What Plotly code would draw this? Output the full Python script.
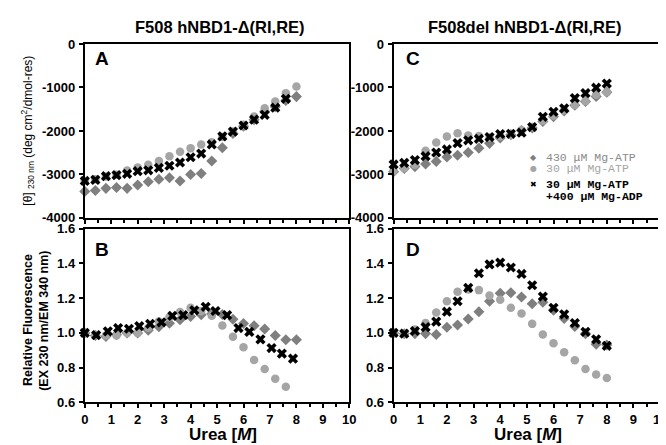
import plotly.graph_objects as go

W, H = 666, 445

# ---------------- data ----------------
urea = [0.0, 0.4, 0.8, 1.2, 1.6, 2.0, 2.4, 2.8, 3.2, 3.6, 4.0,
        4.4, 4.8, 5.2, 5.6, 6.0, 6.4, 6.8, 7.2, 7.6, 8.0]
urea_20 = [0.0, 0.4, 0.8, 1.2, 1.6, 2.0, 2.4, 2.8, 3.2, 3.6,
           4.0, 4.4, 4.8, 5.2, 5.6, 6.0, 6.4, 6.8, 7.2, 7.6]
urea_b_cross = [0.0, 0.43, 0.87, 1.26, 1.67, 2.06, 2.47, 2.9, 3.31, 3.72,
                4.14, 4.57, 4.94, 5.38, 5.81, 6.22, 6.64, 7.06, 7.45, 7.87]

# Panel A (F508, CD)
a_atp430 = [-3390, -3370, -3320, -3300, -3320, -3245, -3170, -3110, -3075, -3150, -3000,
            -2980, -2690, -2385, -2060, -1890, -1740, -1555, -1445, -1300, -1210]
a_atp30 = [-3150, -3110, -3050, -3010, -2910, -2840, -2780, -2690, -2580, -2480, -2395,
           -2310, -2260, -2140, -2010, -1860, -1670, -1480, -1320, -1130, -980]
a_adp = [-3150, -3125, -3040, -3015, -2985, -2925, -2905, -2850, -2800, -2725,
         -2605, -2520, -2310, -2125, -2015, -1875, -1740, -1630, -1465, -1260]

# Panel B (F508, fluorescence)
b_atp430 = [1.0, 0.985, 0.98, 0.99, 1.0, 1.0, 1.015, 1.035, 1.055, 1.076, 1.094,
            1.104, 1.11, 1.106, 1.078, 1.054, 1.041, 1.022, 0.985, 0.961, 0.961]
b_atp30 = [1.0, 0.99, 0.985, 0.985, 1.0, 1.0, 1.03, 1.065, 1.09, 1.12,
           1.144, 1.125, 1.098, 1.043, 0.978, 0.918, 0.844, 0.793, 0.737, 0.69]
b_adp = [1.0, 0.987, 1.009, 1.028, 1.024, 1.039, 1.052, 1.061, 1.098, 1.102,
         1.13, 1.15, 1.126, 1.102, 1.028, 1.006, 0.963, 0.913, 0.881, 0.852]

# Panel C (F508del, CD)
c_atp430 = [-2940, -2865, -2820, -2760, -2700, -2600, -2560, -2495, -2395, -2285, -2160,
            -2085, -1990, -1930, -1780, -1675, -1540, -1410, -1320, -1205, -1110]
c_atp30 = [-2920, -2860, -2780, -2455, -2265, -2125, -2055, -2105, -2115, -2150, -2120,
           -2095, -1985, -1910, -1765, -1650, -1525, -1405, -1315, -1165, -1110]
c_adp = [-2770, -2735, -2670, -2580, -2495, -2425, -2280, -2215, -2180, -2140, -2070,
         -2065, -2040, -1910, -1675, -1560, -1480, -1245, -1130, -1005, -910]

# Panel D (F508del, fluorescence)
d_atp430 = [1.0, 0.995, 0.996, 0.996, 0.991, 1.033, 1.046, 1.08, 1.122, 1.182, 1.228,
            1.231, 1.206, 1.168, 1.176, 1.131, 1.083, 1.037, 0.996, 0.935, 0.93]
d_atp30 = [1.0, 0.995, 1.02, 1.057, 1.117, 1.182, 1.237, 1.25, 1.246, 1.215, 1.19,
           1.144, 1.111, 1.052, 0.991, 0.941, 0.889, 0.843, 0.793, 0.761, 0.741]
d_adp = [1.0, 0.996, 1.011, 1.033, 1.065, 1.122, 1.182, 1.259, 1.343, 1.394, 1.404,
         1.376, 1.339, 1.274, 1.209, 1.144, 1.107, 1.057, 1.006, 0.963, 0.926]

x_ticks = [0, 1, 2, 3, 4, 5, 6, 7, 8, 9, 10]
cd_ticks = [-4000, -3000, -2000, -1000, 0]
cd_ticktext = ["-4000", "-3000", "-2000", "-1000", "0"]
fl_ticks = [0.6, 0.8, 1.0, 1.2, 1.4, 1.6]

titles = ["F508 hNBD1-Δ(RI,RE)", "F508del hNBD1-Δ(RI,RE)"]
panel_letters = ["A", "B", "C", "D"]
legend_glyphs = ["◆", "●", "✖", ""]
legend_labels = ["430 μM Mg-ATP", "30 μM Mg-ATP", "30 μM Mg-ATP", "+400 μM Mg-ADP"]

# ---------------- style ----------------
COL_DIA = "#7f7f7f"
COL_CIR = "#a5a5a5"
COL_X = "#000000"
FONT = "Liberation Sans, Arial, sans-serif"
MONO = "Liberation Mono, Courier New, monospace"


def fx(px):
    return px / W


def fy(py):
    return (H - py) / H


dom_xl = [fx(74), fx(343)]
dom_xr = [fx(388), fx(659)]
dom_ya = [fy(210), fy(30)]
dom_yb = [fy(401), fy(221)]

fig = go.Figure()


def add_series(xa, ya, x_d, y_d, x_c, y_c, x_x, y_x):
    fig.add_trace(go.Scatter(x=x_d, y=y_d, mode="markers", xaxis=xa, yaxis=ya,
                             marker=dict(symbol="diamond", size=8.5, color=COL_DIA),
                             cliponaxis=False, showlegend=False))
    fig.add_trace(go.Scatter(x=x_c, y=y_c, mode="markers", xaxis=xa, yaxis=ya,
                             marker=dict(symbol="circle", size=8.5, color=COL_CIR),
                             cliponaxis=False, showlegend=False))
    fig.add_trace(go.Scatter(x=x_x, y=y_x, mode="markers", xaxis=xa, yaxis=ya,
                             marker=dict(symbol="x", size=9, color=COL_X,
                                         line=dict(width=0)),
                             cliponaxis=False, showlegend=False))


add_series("x", "y", urea, a_atp430, urea, a_atp30, urea_20, a_adp)
add_series("x2", "y2", urea, c_atp430, urea, c_atp30, urea, c_adp)
add_series("x3", "y3", urea, b_atp430, urea_20, b_atp30, urea_b_cross, b_adp)
add_series("x4", "y4", urea, d_atp430, urea, d_atp30, urea, d_adp)

tickfont = dict(family=FONT, size=13, color="black", weight="bold")


def xaxis(domain, anchor, labels):
    return dict(domain=domain, anchor=anchor, range=[0, 10], tickvals=x_ticks,
                showticklabels=labels, ticks="outside", ticklen=4, tickwidth=1.5,
                tickcolor="black", tickfont=tickfont,
                minor=dict(dtick=0.5, ticks="outside", ticklen=3, tickwidth=1.5,
                           tickcolor="black", showgrid=False),
                showline=True, linecolor="black", linewidth=2, mirror=True,
                showgrid=False, zeroline=False, ticklabelstandoff=0)


def yaxis_cd(domain, anchor):
    return dict(domain=domain, anchor=anchor, range=[-4000, 0], tickvals=cd_ticks,
                ticktext=cd_ticktext, ticks="outside", ticklen=4, tickwidth=1.5,
                tickcolor="black", tickfont=tickfont, showline=True,
                linecolor="black", linewidth=2, mirror=True, showgrid=False,
                zeroline=False, ticklabelstandoff=1)


def yaxis_fl(domain, anchor):
    return dict(domain=domain, anchor=anchor, range=[0.6, 1.6], tickvals=fl_ticks,
                tickformat=".1f", ticks="outside", ticklen=4, tickwidth=1.5,
                tickcolor="black", tickfont=tickfont, showline=True,
                linecolor="black", linewidth=2, mirror=True, showgrid=False,
                zeroline=False, ticklabelstandoff=1)


annotations = []
# titles
for t, cx in zip(titles, [212, 521]):
    annotations.append(dict(text="<b>%s</b>" % t, x=fx(cx), y=fy(12), xref="paper",
                            yref="paper", showarrow=False, xanchor="center",
                            yanchor="middle", font=dict(family=FONT, size=16.5, color="black")))
# panel letters
for letter, (px, py) in zip(panel_letters, [(92, 45), (92, 243), (408, 45), (408, 243)]):
    annotations.append(dict(text="<b>%s</b>" % letter, x=fx(px), y=fy(py), xref="paper",
                            yref="paper", showarrow=False, xanchor="center",
                            yanchor="middle", font=dict(family=FONT, size=19, color="black")))
# x-axis titles
for cx in [215, 525]:
    annotations.append(dict(text="<b>Urea [<i>M</i>]</b>", x=fx(cx), y=fy(434),
                            xref="paper", yref="paper", showarrow=False,
                            xanchor="center", yanchor="middle",
                            font=dict(family=FONT, size=17, color="black")))
# y-axis titles
annotations.append(dict(text="[θ] <sub>230 nm</sub> (deg cm<sup>2</sup>/dmol-res)",
                        x=fx(16), y=fy(120), xref="paper", yref="paper",
                        showarrow=False, textangle=-90, xanchor="center", yanchor="middle",
                        font=dict(family=FONT, size=12, color="black")))
annotations.append(dict(text="<b>Relative Fluorescence</b>", x=fx(17), y=fy(316),
                        xref="paper", yref="paper", showarrow=False, textangle=-90,
                        xanchor="center", yanchor="middle",
                        font=dict(family=FONT, size=12.5, color="black")))
annotations.append(dict(text="<b>(EX 230 nm/EM 340 nm)</b>", x=fx(33), y=fy(316),
                        xref="paper", yref="paper", showarrow=False, textangle=-90,
                        xanchor="center", yanchor="middle",
                        font=dict(family=FONT, size=12.5, color="black")))
# legend (in panel C)
leg_rows_y = [147, 159, 175, 188]
leg_text_cols = ["#8a8a8a", "#a5a5a5", "#000000", "#000000"]
leg_glyph_cols = [COL_DIA, COL_CIR, COL_X, COL_X]
leg_bold = [False, False, True, True]
for g, lab, ry, tc, gc, b in zip(legend_glyphs, legend_labels, leg_rows_y,
                                  leg_text_cols, leg_glyph_cols, leg_bold):
    if g:
        annotations.append(dict(text=g, x=fx(530), y=fy(ry), xref="paper", yref="paper",
                                showarrow=False, xanchor="center", yanchor="middle",
                                font=dict(family="DejaVu Sans", size=8, color=gc)))
    annotations.append(dict(text=("<b>%s</b>" % lab) if b else lab, x=fx(541), y=fy(ry),
                            xref="paper", yref="paper", showarrow=False,
                            xanchor="left", yanchor="middle",
                            font=dict(family=MONO, size=11.5, color=tc)))

fig.update_layout(
    width=W, height=H,
    margin=dict(l=0, r=0, t=0, b=0),
    paper_bgcolor="white", plot_bgcolor="white",
    showlegend=False,
    xaxis=xaxis(dom_xl, "y", False),
    yaxis=yaxis_cd(dom_ya, "x"),
    xaxis2=xaxis(dom_xr, "y2", False),
    yaxis2=yaxis_cd(dom_ya, "x2"),
    xaxis3=xaxis(dom_xl, "y3", True),
    yaxis3=yaxis_fl(dom_yb, "x3"),
    xaxis4=xaxis(dom_xr, "y4", True),
    yaxis4=yaxis_fl(dom_yb, "x4"),
    annotations=annotations,
)

fig.write_html("out.html")
